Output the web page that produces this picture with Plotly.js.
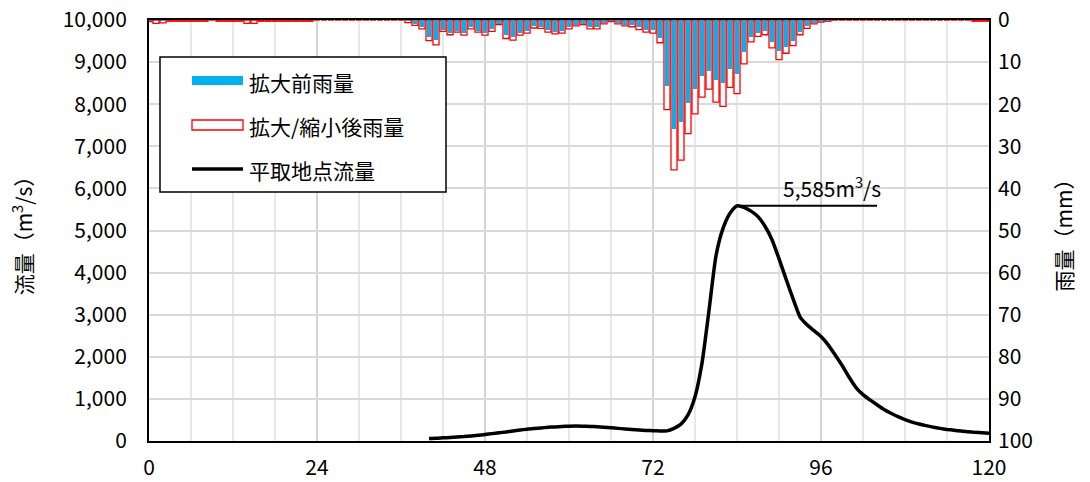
<!DOCTYPE html>
<html>
<head>
<meta charset="utf-8">
<script src="https://cdn.plot.ly/plotly-3.0.1.min.js"></script>
<style>html,body{margin:0;padding:0;background:#fff;}#chart{width:1090px;height:482px;}</style>
</head>
<body>
<div id="chart"></div>
<script>
// ---- data ----
const rainHours = [];
for (let h = 0; h <= 120; h++) rainHours.push(h);

// 拡大前雨量 (mm), hours 0..120
const rainBefore = [
  0.3,0.2,0.2,0.1,0.1,0.1,0.1,0.1,0.1,0,          // 0-9
  0.1,0.1,0.1,0.1,0.1,0.1,0.1,0.1,0.1,0.1,        // 10-19
  0.1,0.1,0.1,0.1,0,0,0,0,0,0,                    // 20-29
  0,0,0,0,0,0,0,0.3,1.0,1.7,                      // 30-39
  4.0,4.8,2.4,3.1,2.5,3.2,1.7,2.5,3.2,2.2,        // 40-49
  0.9,3.6,4.0,3.2,2.7,1.5,1.6,2.4,2.8,2.5,        // 50-59
  1.7,1.1,0.9,1.7,1.7,0.6,0.3,0.7,1.1,1.3,        // 60-69
  1.7,2.3,2.3,4.3,15.6,25.9,24.3,19.7,16.3,13.2,  // 70-79
  12.0,14.2,15.0,11.6,12.8,7.6,4.1,3.1,2.7,5.2,   // 80-89
  7.4,6.3,4.9,2.8,1.5,0.6,0.4,0.2,0,0,            // 90-99
  0,0,0,0,0,0,0,0,0,0,                            // 100-109
  0,0,0,0,0,0,0,0,0.1,0.1,                        // 110-119
  0.1                                             // 120
];

// 拡大/縮小後雨量 (mm), hours 0..120
const rainAfter = [
  0.4,0.8,0.7,0.3,0.3,0.3,0.3,0.3,0.3,0,          // 0-9
  0.3,0.3,0.3,0.3,0.8,0.8,0.3,0.3,0.3,0.3,        // 10-19
  0.3,0.3,0.3,0.3,0,0,0,0,0,0,                    // 20-29
  0,0,0,0,0,0,0,0.6,1.3,2.1,                      // 30-39
  4.9,5.9,2.7,3.5,2.9,3.6,2.1,2.9,3.6,2.7,        // 40-49
  1.1,4.4,4.8,3.6,3.1,1.9,2.0,2.9,3.3,3.1,        // 50-59
  2.1,1.4,1.1,2.1,2.1,0.9,0.4,0.9,1.4,1.6,        // 60-69
  2.3,2.9,3.1,5.4,21.3,35.6,33.3,27.0,22.3,18.3,  // 70-79
  16.4,19.5,20.5,16.0,17.5,10.4,5.2,3.9,3.5,6.6,  // 80-89
  9.4,7.9,6.1,3.5,2.0,0.9,0.5,0.3,0,0,            // 90-99
  0,0,0,0,0,0,0,0,0,0,                            // 100-109
  0,0,0,0,0,0,0,0,0.3,0.3,                        // 110-119
  0.3                                             // 120
];

// 平取地点流量 (m3/s), hours 40..120
const flowHours = [];
for (let h = 40; h <= 120; h++) flowHours.push(h);
const flow = [
  60,65,75,85,95,105,120,135,155,175,             // 40-49
  195,215,240,260,280,295,310,325,335,345,        // 50-59
  352,355,352,345,338,328,315,300,288,275,        // 60-69
  262,252,245,240,240,300,400,618,1050,1850,      // 70-79
  3100,4400,5050,5410,5585,5550,5460,5330,5100,4780, // 80-89
  4330,3850,3380,2950,2760,2620,2480,2290,2050,1800, // 90-99
  1520,1270,1100,975,860,750,660,580,510,450,     // 100-109
  405,365,330,300,275,255,235,220,205,195,        // 110-119
  185                                             // 120
];

const xTicks = [0, 24, 48, 72, 96, 120];
const seriesNames = ['拡大前雨量', '拡大/縮小後雨量', '平取地点流量'];
const leftTitle = '流量（m<sup>3</sup>/s）';
const rightTitle = '雨量（mm）';

// ---- chart ----
const FONT = '"Noto Sans CJK JP", "Noto Sans", sans-serif';
const BLUE = '#00b0f0', RED = '#ff0000';

const W = 1090, H = 482;
const M = {l: 149, r: 101, t: 20, b: 41};
const pw = W - M.l - M.r, ph = H - M.t - M.b;
const px = x => (x - M.l) / pw;
const py = y => (H - M.b - y) / ph;

const peakVal = Math.max(...flow);
const peakHour = flowHours[flow.indexOf(peakVal)];

const traces = [
  {type: 'bar', name: seriesNames[1], x: rainHours, y: rainAfter, yaxis: 'y2', width: 0.86,
   marker: {color: '#ffffff', line: {color: RED, width: 1.3}}, hoverinfo: 'skip'},
  {type: 'bar', name: seriesNames[0], x: rainHours, y: rainBefore, yaxis: 'y2', width: 0.64,
   marker: {color: BLUE, line: {width: 0}}, hoverinfo: 'skip'},
  {type: 'scatter', mode: 'lines', name: seriesNames[2], x: flowHours, y: flow, yaxis: 'y',
   line: {color: '#000', width: 3.5, shape: 'spline', smoothing: 0.6}}
];

const shapes = [
  // peak marker line
  {type: 'line', xref: 'x', yref: 'y', x0: peakHour, x1: peakHour + 20, y0: peakVal, y1: peakVal,
   line: {color: '#000', width: 2}},
  // legend box
  {type: 'rect', xref: 'paper', yref: 'paper', x0: px(160), x1: px(446), y0: py(192), y1: py(57),
   fillcolor: '#fff', line: {color: '#000', width: 1.5}, layer: 'above'},
  {type: 'rect', xref: 'paper', yref: 'paper', x0: px(192), x1: px(243), y0: py(85), y1: py(76),
   fillcolor: BLUE, line: {width: 0}, layer: 'above'},
  {type: 'rect', xref: 'paper', yref: 'paper', x0: px(192), x1: px(243), y0: py(130), y1: py(120),
   fillcolor: '#fff', line: {color: RED, width: 1.3}, layer: 'above'},
  {type: 'line', xref: 'paper', yref: 'paper', x0: px(192), x1: px(243), y0: py(169), y1: py(169),
   line: {color: '#000', width: 3.5}, layer: 'above'}
];

const legendRows = [82, 126, 170];
const annotations = [
  {xref: 'x', yref: 'y', x: peakHour + 13.6, y: peakVal, yshift: 19, showarrow: false,
   text: peakVal.toLocaleString('en-US') + 'm<sup>3</sup>/s', font: {family: FONT, size: 21, color: '#000'}},
  {xref: 'paper', yref: 'paper', x: 1, xshift: 90, y: 0.5, yshift: 0, showarrow: false, textangle: -90,
   text: rightTitle, font: {family: FONT, size: 21, color: '#000'}}
];
seriesNames.forEach((n, i) => annotations.push({
  xref: 'paper', yref: 'paper', x: px(247), y: py(legendRows[i]), xanchor: 'left', yanchor: 'middle',
  showarrow: false, text: n, font: {family: FONT, size: 21, color: '#000'}
}));

const layout = {
  width: W, height: H, margin: M,
  paper_bgcolor: '#fff', plot_bgcolor: '#fff',
  font: {family: FONT, size: 21, color: '#000'},
  showlegend: false, barmode: 'overlay', bargap: 0,
  xaxis: {range: [0, 120], tickvals: xTicks, ticktext: xTicks.map(String),
          showgrid: true, gridcolor: '#d4d4d4', gridwidth: 2,
          minor: {dtick: 6, showgrid: true, gridcolor: '#e8e8e8', gridwidth: 2},
          showline: true, linecolor: '#000', linewidth: 2, mirror: true,
          zeroline: false, ticks: '', ticklabelstandoff: 7,
          tickfont: {family: FONT, size: 21, color: '#000'}},
  yaxis: {range: [0, 10000], dtick: 1000, tickformat: ',d',
          showgrid: true, gridcolor: '#d9d9d9', gridwidth: 2,
          showline: true, linecolor: '#000', linewidth: 2, mirror: true,
          zeroline: false, ticks: '', ticklabelstandoff: 16,
          tickfont: {family: FONT, size: 21, color: '#000'},
          title: {text: leftTitle, font: {family: FONT, size: 21, color: '#000'}, standoff: 24}},
  yaxis2: {overlaying: 'y', side: 'right', range: [100, 0], dtick: 10,
           showgrid: false, zeroline: false, showline: false, ticks: '', ticklabelstandoff: 8,
           tickfont: {family: FONT, size: 21, color: '#000'}},
  shapes: shapes,
  annotations: annotations
};

Plotly.newPlot('chart', traces, layout, {displayModeBar: false, staticPlot: true});
</script>
</body>
</html>
